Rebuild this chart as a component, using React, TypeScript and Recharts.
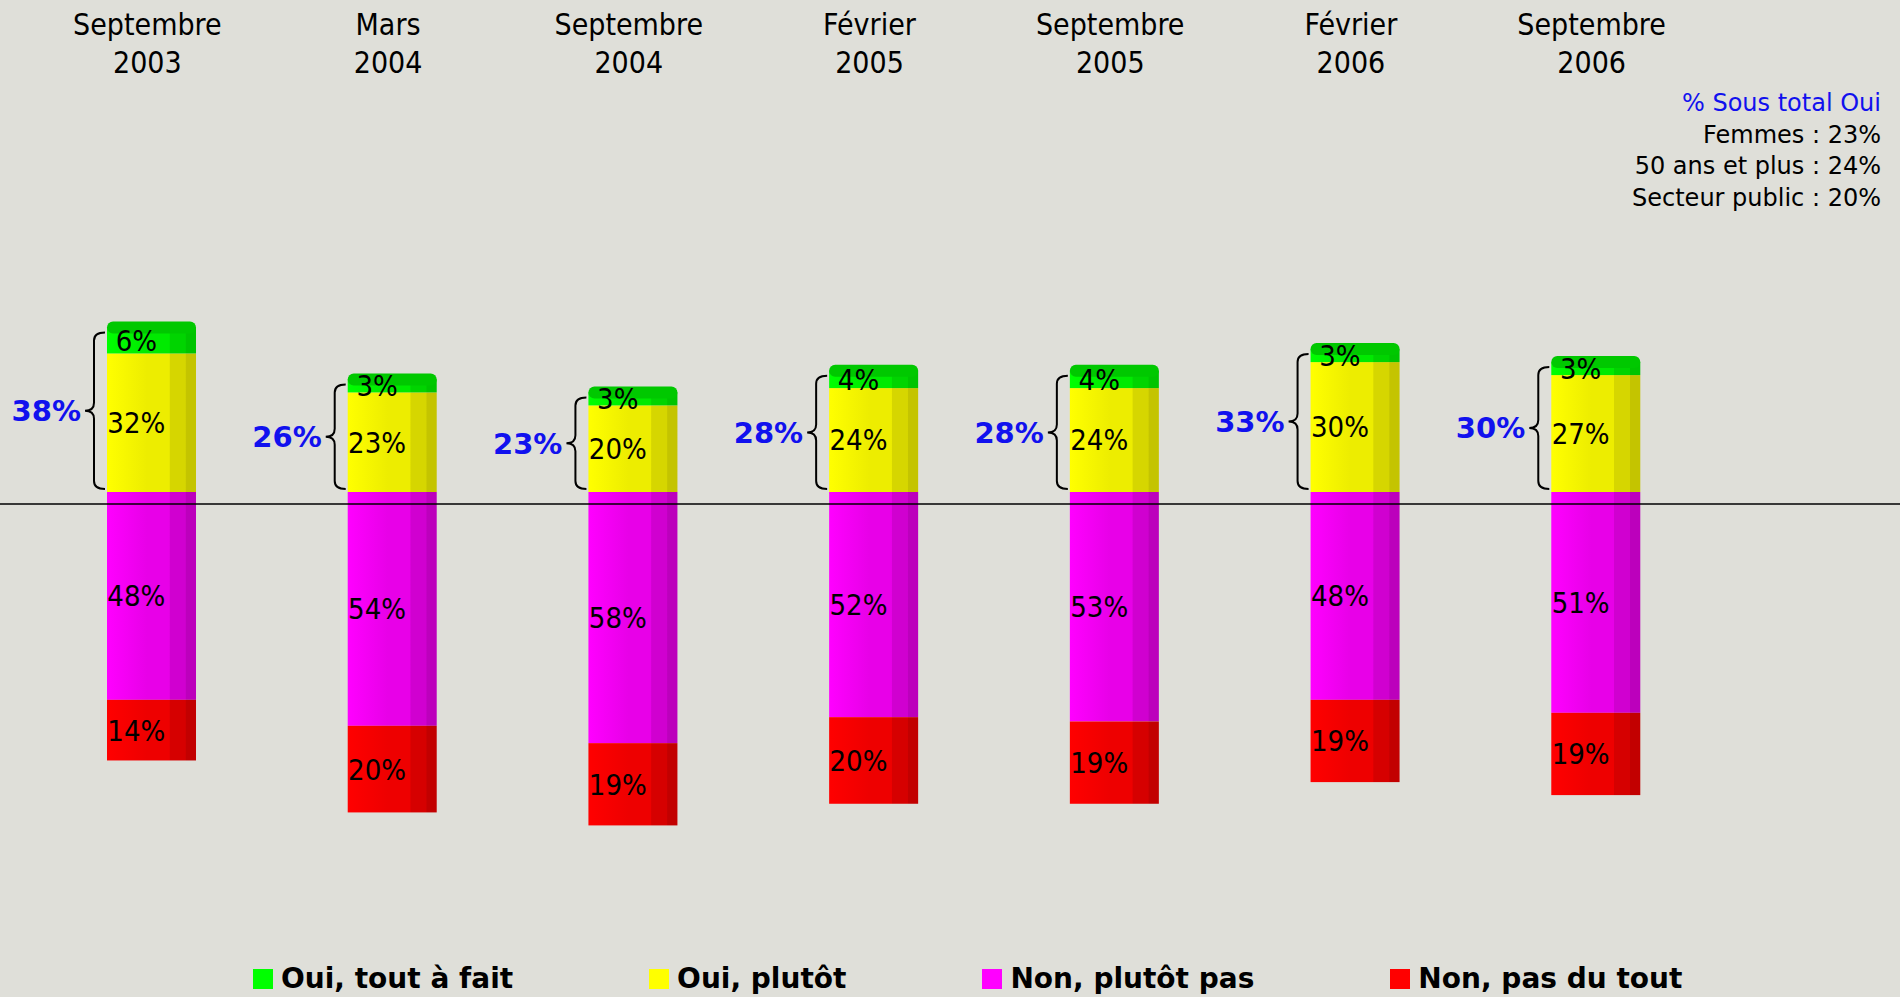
import { BarChart, Bar, XAxis, YAxis, ReferenceLine, LabelList, Legend } from 'recharts';

const months = ['Septembre', 'Mars', 'Septembre', 'Février', 'Septembre', 'Février', 'Septembre'];
const years = ['2003', '2004', '2004', '2005', '2005', '2006', '2006'];

const ouiToutAFait = [6, 3, 3, 4, 4, 3, 3];
const ouiPlutot = [32, 23, 20, 24, 24, 30, 27];
const nonPlutotPas = [48, 54, 58, 52, 53, 48, 51];
const nonPasDuTout = [14, 20, 19, 20, 19, 19, 19];
const sousTotalOui = [38, 26, 23, 28, 28, 33, 30];

const noteLines = ['Femmes : 23%', '50 ans et plus : 24%', 'Secteur public : 20%'];

const legendItems = [
  { label: 'Oui, tout à fait', color: '#00ff00' },
  { label: 'Oui, plutôt', color: '#ffff00' },
  { label: 'Non, plutôt pas', color: '#ff00ff' },
  { label: 'Non, pas du tout', color: '#ff0000' },
];

const data = months.map((m, i) => ({
  period: `${m} ${years[i]}`,
  toutAFait: ouiToutAFait[i],
  plutot: ouiPlutot[i],
  plutotPas: -nonPlutotPas[i],
  pasDuTout: -nonPasDuTout[i],
  total: sousTotalOui[i],
}));

const BG = '#dfdfd9';
const COND = "'DejaVu Sans Condensed', 'DejaVu Sans', sans-serif";
const SANS = "'DejaVu Sans', sans-serif";

// front face + darker side strips, like the original pseudo-3D columns
const gradients = [
  { id: 'g-green', c: ['#00ff00', '#00ea00', '#00d400', '#00c400'] },
  { id: 'g-yellow', c: ['#ffff00', '#eded00', '#d6d600', '#c4c400'] },
  { id: 'g-magenta', c: ['#ff00ff', '#e800e8', '#d000d0', '#bc00bc'] },
  { id: 'g-red', c: ['#ff0000', '#ee0000', '#d60000', '#c20000'] },
];

const columnShape = (gradId: string, lid = false) => (props: any) => {
  const { x, y, width, height } = props;
  let top = y;
  let h = height;
  if (h < 0) {
    top = y + h;
    h = -h;
  }
  return (
    <g>
      <rect x={x} y={top} width={width} height={h} fill={`url(#${gradId})`} />
      {lid && <rect x={x} y={top - 6} width={width} height={12} rx={6} fill="#00c800" />}
    </g>
  );
};

const valueLabel = (props: any) => {
  const vb = props.viewBox || props;
  const { x, y, width, height } = vb;
  if (props.value == null) return null;
  return (
    <text
      x={x + width * 0.33}
      y={y + height / 2}
      dy="0.36em"
      textAnchor="middle"
      fontFamily={COND}
      fontStretch="condensed"
      fontSize={29}
      fill="#000"
    >
      {Math.abs(props.value)}%
    </text>
  );
};

// brace + blue sub-total, drawn from the "Oui, plutôt" segment
const braceLabel = (props: any) => {
  const vb = props.viewBox || props;
  const { x, y, width, height } = vb;
  const row = data.find((d) => d.period === props.value);
  if (!row) return null;
  const h = Math.abs(height);
  const zero = height >= 0 ? y + height : y;
  const pxPerUnit = h / row.plutot;
  const T = zero - row.total * pxPerUnit + 5;
  const B = zero - 3;
  const M = (T + B) / 2;
  const xe = x - 2;
  const xb = x - 13;
  const x0 = x - 22;
  const r = 8;
  const d = `M ${xe} ${T} Q ${xb} ${T} ${xb} ${T + r} L ${xb} ${M - r} Q ${xb} ${M} ${x0} ${M} Q ${xb} ${M} ${xb} ${M + r} L ${xb} ${B - r} Q ${xb} ${B} ${xe} ${B}`;
  return (
    <g>
      <path d={d} fill="none" stroke="#000" strokeWidth={2} />
      <text
        x={x - 26}
        y={M}
        dy="0.36em"
        textAnchor="end"
        fontFamily={SANS}
        fontWeight="bold"
        fontSize={29}
        fill="#1111ee"
      >
        {row.total}%
      </text>
    </g>
  );
};

const HeaderTick = (props: any) => {
  const { x, payload } = props;
  const [m, yr] = String(payload.value).split(' ');
  return (
    <text textAnchor="middle" fontFamily={COND} fontStretch="condensed" fontSize={30} fill="#000">
      <tspan x={x - 4} y={35}>{m}</tspan>
      <tspan x={x - 4} y={73}>{yr}</tspan>
    </text>
  );
};

const LegendContent = () => (
  <div style={{ display: 'flex', alignItems: 'center', whiteSpace: 'nowrap' }}>
    {legendItems.map((it) => (
      <div key={it.label} style={{ display: 'flex', alignItems: 'center', marginRight: 136 }}>
        <span style={{ width: 20, height: 20, background: it.color, display: 'inline-block', marginRight: 8 }} />
        <span style={{ fontFamily: SANS, fontWeight: 'bold', fontSize: 28, color: '#000', lineHeight: '30px' }}>
          {it.label}
        </span>
      </div>
    ))}
  </div>
);

export default function App() {
  return (
    <div style={{ position: 'absolute', left: 0, top: 0, width: 1900, height: 997, background: BG }}>
      <BarChart
        width={1900}
        height={997}
        data={data}
        stackOffset="sign"
        margin={{ top: 0, right: 0, bottom: 72, left: 0 }}
      >
        <defs>
          {gradients.map((g) => (
            <linearGradient key={g.id} id={g.id} x1="0" y1="0" x2="1" y2="0">
              <stop offset="0%" stopColor={g.c[0]} />
              <stop offset="45%" stopColor={g.c[1]} />
              <stop offset="70%" stopColor={g.c[1]} />
              <stop offset="71%" stopColor={g.c[2]} />
              <stop offset="88%" stopColor={g.c[2]} />
              <stop offset="89%" stopColor={g.c[3]} />
              <stop offset="100%" stopColor={g.c[3]} />
            </linearGradient>
          ))}
        </defs>
        <XAxis
          dataKey="period"
          orientation="top"
          height={59}
          axisLine={false}
          tickLine={false}
          interval={0}
          padding={{ left: 31, right: 184 }}
          tick={<HeaderTick />}
        />
        <YAxis hide domain={[-100, 100]} />
        <ReferenceLine y={-2.8} stroke="#000" strokeWidth={1.5} />
        <Bar dataKey="plutot" stackId="s" barSize={89} isAnimationActive={false} shape={columnShape('g-yellow')}>
          <LabelList dataKey="plutot" content={valueLabel} />
          <LabelList dataKey="period" content={braceLabel} />
        </Bar>
        <Bar dataKey="toutAFait" stackId="s" barSize={89} isAnimationActive={false} shape={columnShape('g-green', true)}>
          <LabelList dataKey="toutAFait" content={valueLabel} />
        </Bar>
        <Bar dataKey="plutotPas" stackId="s" barSize={89} isAnimationActive={false} shape={columnShape('g-magenta')}>
          <LabelList dataKey="plutotPas" content={valueLabel} />
        </Bar>
        <Bar dataKey="pasDuTout" stackId="s" barSize={89} isAnimationActive={false} shape={columnShape('g-red')}>
          <LabelList dataKey="pasDuTout" content={valueLabel} />
        </Bar>
        <Legend
          layout="horizontal"
          verticalAlign="middle"
          align="center"
          content={<LegendContent />}
          wrapperStyle={{ left: 253, top: 964, width: 'auto' }}
        />
      </BarChart>
      <div
        style={{
          position: 'absolute',
          right: 19,
          top: 88,
          textAlign: 'right',
          fontFamily: SANS,
          fontSize: 24,
          lineHeight: '31.7px',
          color: '#000',
        }}
      >
        <div style={{ color: '#1111ee' }}>% Sous total Oui</div>
        {noteLines.map((l) => (
          <div key={l}>{l}</div>
        ))}
      </div>
    </div>
  );
}
